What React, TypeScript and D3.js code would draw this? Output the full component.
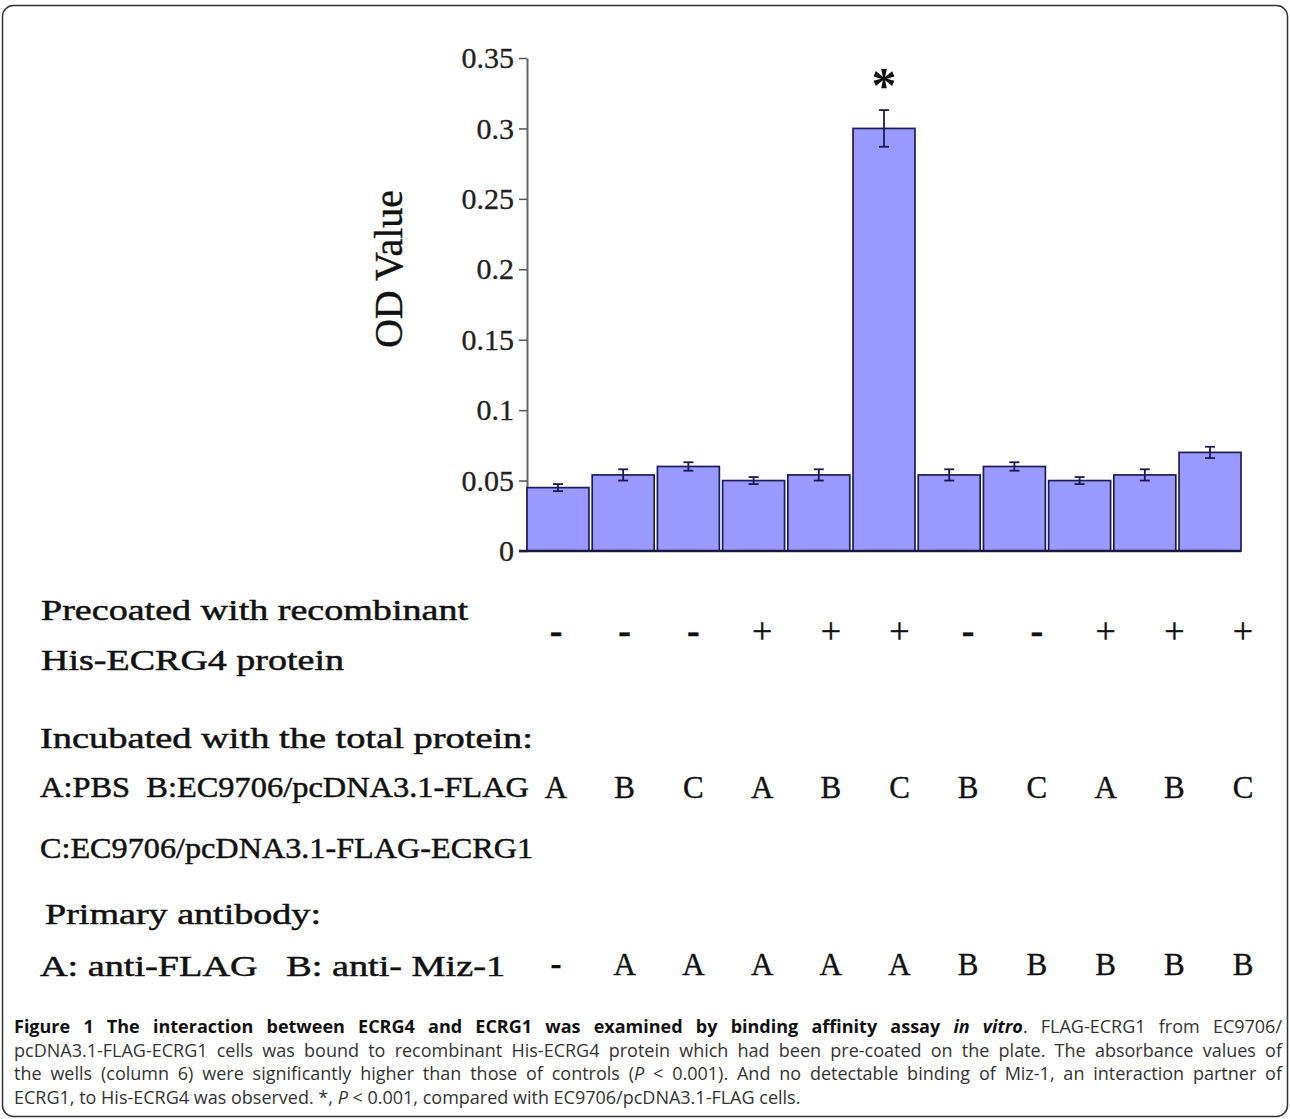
import { useEffect, useRef } from 'react';
import * as d3 from 'd3';

// wells / columns of the plate
const columns = ['1', '2', '3', '4', '5', '6', '7', '8', '9', '10', '11'];
// OD readings and their error (+/-)
const odValues = [0.045, 0.054, 0.06, 0.05, 0.054, 0.3, 0.054, 0.06, 0.05, 0.054, 0.07];
const odErrors = [0.0025, 0.004, 0.003, 0.0025, 0.004, 0.013, 0.004, 0.003, 0.0025, 0.004, 0.004];
const significantColumns = ['6'];
const yTicks = [0, 0.05, 0.1, 0.15, 0.2, 0.25, 0.3, 0.35];

// condition table under the chart
const precoated = ['-', '-', '-', '+', '+', '+', '-', '-', '+', '+', '+'];
const totalProtein = ['A', 'B', 'C', 'A', 'B', 'C', 'B', 'C', 'A', 'B', 'C'];
const primaryAntibody = ['-', 'A', 'A', 'A', 'A', 'A', 'B', 'B', 'B', 'B', 'B'];

const rowTitles = [
  'Precoated with recombinant',
  'His-ECRG4 protein',
  'Incubated with the total protein:',
  'A:PBS  B:EC9706/pcDNA3.1-FLAG',
  'C:EC9706/pcDNA3.1-FLAG-ECRG1',
  'Primary antibody:',
  'A: anti-FLAG   B: anti- Miz-1'
];

const SERIF = '"Liberation Serif", "Times New Roman", serif';
const SANS = '"Open Sans", "Noto Sans", sans-serif';

export default function App() {
  const svgRef = useRef<SVGSVGElement>(null);

  useEffect(() => {
    if (!svgRef.current) return;
    const svg = d3.select(svgRef.current);
    svg.selectAll('*').remove();

    const width = 1290;
    const height = 1119;

    svg.attr('width', width).attr('height', height);

    // rounded frame around the whole figure
    svg.append('rect')
      .attr('x', 2.5)
      .attr('y', 5.5)
      .attr('width', width - 5)
      .attr('height', height - 8)
      .attr('rx', 11)
      .attr('fill', 'white')
      .attr('stroke', '#333')
      .attr('stroke-width', 1.5);

    const x = d3.scaleBand<string>()
      .domain(columns)
      .range([527, 1241])
      .paddingInner(0.05)
      .paddingOuter(0);

    const y = d3.scaleLinear()
      .domain([0, 0.35])
      .range([551, 58]);

    // y axis
    const yAxis = svg.append('g')
      .attr('transform', 'translate(527,0)')
      .call(
        d3.axisLeft(y)
          .tickValues(yTicks)
          .tickSize(8)
          .tickSizeOuter(0)
          .tickPadding(5)
          .tickFormat(d => String(d))
      );
    yAxis.select('.domain').attr('stroke', '#666').attr('stroke-width', 2);
    yAxis.selectAll('.tick line').attr('stroke', '#555').attr('stroke-width', 1.5);
    yAxis.selectAll('.tick text')
      .attr('fill', '#222')
      .attr('stroke', '#222')
      .attr('stroke-width', 0.3)
      .style('font-family', SERIF)
      .style('font-size', '30px');

    svg.append('text')
      .attr('transform', 'translate(402,269) rotate(-90)')
      .attr('text-anchor', 'middle')
      .style('font-family', SERIF)
      .style('font-size', '40px')
      .attr('fill', '#111')
      .attr('stroke', '#111')
      .attr('stroke-width', 0.4)
      .text('OD Value');

    // bars
    svg.selectAll('rect.bar')
      .data(columns)
      .join('rect')
      .attr('class', 'bar')
      .attr('x', d => x(d)!)
      .attr('y', (d, i) => y(odValues[i]))
      .attr('width', x.bandwidth())
      .attr('height', (d, i) => y(0) - y(odValues[i]))
      .attr('fill', '#9999ff')
      .attr('stroke', '#1d1d55')
      .attr('stroke-width', 1.7);

    // baseline
    svg.append('line')
      .attr('x1', 519)
      .attr('x2', 1241)
      .attr('y1', y(0))
      .attr('y2', y(0))
      .attr('stroke', '#1a1a40')
      .attr('stroke-width', 2.5);

    // error bars
    const err = svg.selectAll('g.err')
      .data(columns)
      .join('g')
      .attr('class', 'err')
      .attr('stroke', '#1a1a50')
      .attr('stroke-width', 1.8);
    const cx = (d: string) => x(d)! + x.bandwidth() / 2;
    err.append('line')
      .attr('x1', d => cx(d))
      .attr('x2', d => cx(d))
      .attr('y1', (d, i) => y(odValues[i] + odErrors[i]))
      .attr('y2', (d, i) => y(odValues[i] - odErrors[i]));
    err.append('line')
      .attr('x1', d => cx(d) - 5)
      .attr('x2', d => cx(d) + 5)
      .attr('y1', (d, i) => y(odValues[i] + odErrors[i]))
      .attr('y2', (d, i) => y(odValues[i] + odErrors[i]));
    err.append('line')
      .attr('x1', d => cx(d) - 5)
      .attr('x2', d => cx(d) + 5)
      .attr('y1', (d, i) => y(odValues[i] - odErrors[i]))
      .attr('y2', (d, i) => y(odValues[i] - odErrors[i]));

    // significance mark
    svg.selectAll('text.star')
      .data(significantColumns)
      .join('text')
      .attr('class', 'star')
      .attr('x', d => cx(d))
      .attr('y', d => {
        const i = columns.indexOf(d);
        return y(odValues[i] + odErrors[i]) - 8;
      })
      .attr('text-anchor', 'middle')
      .style('font-family', SERIF)
      .style('font-size', '50px')
      .style('font-weight', 'bold')
      .attr('fill', '#111')
      .text('*');

    // condition table
    const titleLayout = [
      { x: 41, y: 620, w: 427 },
      { x: 41, y: 670, w: 303 },
      { x: 40, y: 748, w: 493 },
      { x: 40, y: 797, w: 489 },
      { x: 40, y: 858, w: 493 },
      { x: 45, y: 924, w: 276 },
      { x: 40, y: 976, w: 465 }
    ];
    svg.selectAll('text.rowtitle')
      .data(rowTitles)
      .join('text')
      .attr('class', 'rowtitle')
      .attr('x', (d, i) => titleLayout[i].x)
      .attr('y', (d, i) => titleLayout[i].y)
      .attr('textLength', (d, i) => titleLayout[i].w)
      .attr('lengthAdjust', 'spacingAndGlyphs')
      .style('font-family', SERIF)
      .style('font-size', '30px')
      .style('white-space', 'pre')
      .attr('fill', '#111')
      .attr('stroke', '#111')
      .attr('stroke-width', 0.5)
      .text(d => d);

    const tx = d3.scalePoint<string>().domain(columns).range([556, 1243]);
    const rows = [
      { values: precoated, y: 643, size: 36 },
      { values: totalProtein, y: 798, size: 31 },
      { values: primaryAntibody, y: 975, size: 31 }
    ];
    rows.forEach(row => {
      svg.append('g')
        .selectAll('text')
        .data(columns)
        .join('text')
        .attr('x', d => tx(d)!)
        .attr('y', row.y)
        .attr('text-anchor', 'middle')
        .style('font-family', SERIF)
        .style('font-size', (d, i) => (row.values[i] === '-' ? row.size + 2 : row.size) + 'px')
        .style('font-weight', (d, i) => (row.values[i] === '-' ? 'bold' : 'normal'))
        .attr('fill', '#111')
        .attr('stroke', '#111')
        .attr('stroke-width', 0.4)
        .text((d, i) => row.values[i]);
    });

    // caption
    const captionLines = [
      [
        { t: 'Figure 1 The interaction between ECRG4 and ECRG1 was examined by binding affinity assay ', b: true },
        { t: 'in vitro', b: true, i: true },
        { t: '. FLAG-ECRG1 from EC9706/' }
      ],
      [
        { t: 'pcDNA3.1-FLAG-ECRG1 cells was bound to recombinant His-ECRG4 protein which had been pre-coated on the plate. The absorbance values of' }
      ],
      [
        { t: 'the wells (column 6) were significantly higher than those of controls (' },
        { t: 'P', i: true },
        { t: ' < 0.001). And no detectable binding of Miz-1, an interaction partner of' }
      ],
      [
        { t: 'ECRG1, to His-ECRG4 was observed. *, ' },
        { t: 'P', i: true },
        { t: ' < 0.001, compared with EC9706/pcDNA3.1-FLAG cells.' }
      ]
    ];
    const capLeft = 14;
    const capRight = 1282;
    captionLines.forEach((line, li) => {
      const text = svg.append('text')
        .attr('x', capLeft)
        .attr('y', 1033 + li * 23.7)
        .style('font-family', SANS)
        .style('font-size', '18px')
        .style('white-space', 'pre')
        .attr('fill', '#333');
      line.forEach((seg: any) => {
        text.append('tspan')
          .style('font-weight', seg.b ? 'bold' : 'normal')
          .style('font-style', seg.i ? 'italic' : 'normal')
          .attr('fill', seg.b ? '#111' : '#333')
          .text(seg.t);
      });
      const node = text.node() as SVGTextElement;
      const natural = node.getComputedTextLength();
      const target = capRight - capLeft;
      if (li < captionLines.length - 1) {
        // justify every line but the last
        if (natural > target) {
          text.attr('textLength', target).attr('lengthAdjust', 'spacingAndGlyphs');
        } else {
          const full = line.map((s: any) => s.t).join('');
          const spaces = (full.match(/ /g) || []).length;
          if (spaces > 0) text.attr('word-spacing', (target - natural) / spaces);
        }
      } else if (natural > 816) {
        text.attr('textLength', 816).attr('lengthAdjust', 'spacingAndGlyphs');
      }
    });
  }, []);

  return (
    <div style={{ position: 'absolute', left: 0, top: 0 }}>
      <svg ref={svgRef}></svg>
    </div>
  );
}
